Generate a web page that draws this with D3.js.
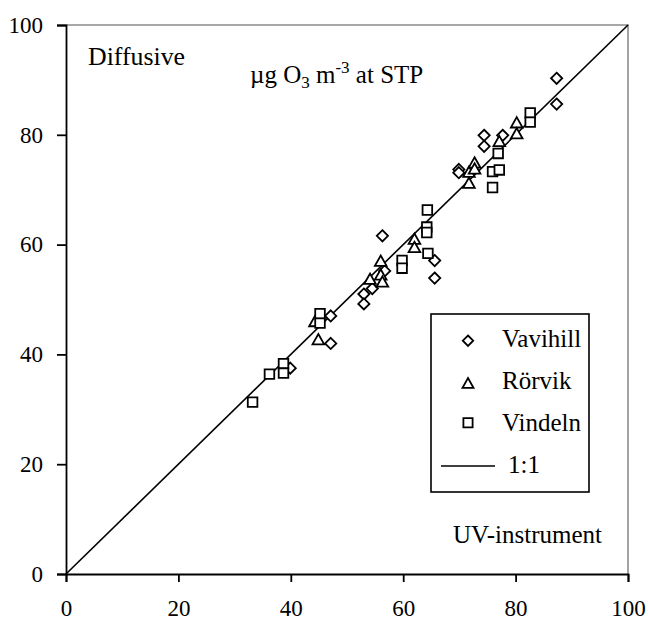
<!DOCTYPE html>
<html>
<head>
<meta charset="utf-8">
<script src="https://cdn.jsdelivr.net/npm/d3@7"></script>
<style>
  html, body { margin: 0; padding: 0; background: #fff; }
  svg text { font-family: "Liberation Serif", "Times New Roman", serif; fill: #000; }
</style>
</head>
<body>
<svg id="chart" width="648" height="623"></svg>
<script>
// Diffusive sampler vs UV-instrument ozone (µg O3 m-3 at STP)
const vavihill = [
  [39.9, 37.5], [47.1, 47.0], [47.1, 42.0], [53.0, 51.0], [53.0, 49.2],
  [54.5, 52.0], [56.3, 61.6], [56.7, 55.2], [65.6, 57.1], [65.6, 53.9],
  [69.9, 73.7], [69.9, 73.1], [74.4, 79.9], [74.4, 77.9], [77.7, 79.9],
  [87.3, 90.3], [87.3, 85.6]
];
const rorvik = [
  [44.3, 46.0], [44.9, 42.7], [54.1, 53.7], [56.0, 57.0], [56.0, 54.5],
  [56.3, 53.2], [62.0, 61.0], [62.0, 59.5], [71.7, 73.2], [71.7, 71.2],
  [72.7, 74.9], [72.7, 73.8], [77.1, 78.8], [80.2, 82.2], [80.2, 80.2]
];
const vindeln = [
  [33.2, 31.3], [36.2, 36.4], [38.7, 38.3], [38.7, 36.6], [45.2, 47.4],
  [45.2, 45.7], [59.8, 57.1], [59.8, 55.7], [64.3, 66.3], [64.2, 63.2],
  [64.2, 62.2], [64.4, 58.4], [75.9, 73.3], [77.1, 73.6], [75.9, 70.4],
  [76.9, 76.6], [82.6, 84.0], [82.6, 82.3]
];
const oneToOne = [[0, 0], [100, 100]];
const xTicks = [0, 20, 40, 60, 80, 100];
const yTicks = [0, 20, 40, 60, 80, 100];
const seriesNames = ["Vavihill", "Rörvik", "Vindeln"];
const lineName = "1:1";

const svg = d3.select("#chart");
const x = d3.scaleLinear().domain([0, 100]).range([66, 628]);
const y = d3.scaleLinear().domain([0, 100]).range([574, 25]);

// marker shapes
const shapes = {
  diamond: s => `M0,${-s}L${s},0L0,${s}L${-s},0Z`,
  triangle: s => `M0,${-s * 1.05}L${s * 1.1},${s * 0.9}L${-s * 1.1},${s * 0.9}Z`,
  square: s => `M${-s},${-s}H${s}V${s}H${-s}Z`
};

// plot frame: grey top/right border
svg.append("path")
  .attr("d", `M${x(0)},${y(100)}H${x(100)}V${y(0)}`)
  .attr("fill", "none").attr("stroke", "#8c8c8c").attr("stroke-width", 1.6);

// axes
const xAxis = d3.axisBottom(x).tickValues(xTicks).tickSize(8).tickPadding(18).tickFormat(d3.format("d"));
const yAxis = d3.axisLeft(y).tickValues(yTicks).tickSize(9).tickPadding(14).tickFormat(d3.format("d"));

const gx = svg.append("g").attr("transform", `translate(0,${y(0)})`).call(xAxis);
const gy = svg.append("g").attr("transform", `translate(${x(0)},0)`).call(yAxis);
[gx, gy].forEach(g => {
  g.select(".domain").attr("stroke", "#000").attr("stroke-width", 1.8);
  g.selectAll(".tick line").attr("stroke", "#000").attr("stroke-width", 1.8);
  g.selectAll(".tick text").attr("font-family", "Liberation Serif").attr("font-size", 23).attr("fill", "#000");
});

// 1:1 line
const line = d3.line().x(d => x(d[0])).y(d => y(d[1]));
svg.append("path").datum(oneToOne).attr("d", line)
  .attr("fill", "none").attr("stroke", "#000").attr("stroke-width", 1.6);

// data points
function drawSeries(data, shape, size) {
  svg.append("g").selectAll("path").data(data).join("path")
    .attr("transform", d => `translate(${x(d[0])},${y(d[1])})`)
    .attr("d", shapes[shape](size))
    .attr("fill", "#fff").attr("stroke", "#000").attr("stroke-width", 1.8);
}
drawSeries(vavihill, "diamond", 5.6);
drawSeries(rorvik, "triangle", 5.3);
drawSeries(vindeln, "square", 4.8);

// annotations
svg.append("text").attr("x", 88).attr("y", 65).attr("font-size", 25)
  .attr("textLength", 97).attr("lengthAdjust", "spacingAndGlyphs").text("Diffusive");

const unit = svg.append("text").attr("x", 250).attr("y", 83).attr("font-size", 25);
unit.append("tspan").text("µg O");
unit.append("tspan").attr("dy", 5).attr("font-size", 17).text("3");
unit.append("tspan").attr("dy", -5).text(" m");
unit.append("tspan").attr("dy", -10).attr("font-size", 17).text("-3");
unit.append("tspan").attr("dy", 10).text(" at STP");

svg.append("text").attr("x", 602).attr("y", 543).attr("font-size", 25)
  .attr("text-anchor", "end").text("UV-instrument");

// legend
const legend = svg.append("g");
legend.append("rect").attr("x", 431).attr("y", 314).attr("width", 158).attr("height", 178)
  .attr("fill", "#fff").attr("stroke", "#000").attr("stroke-width", 1.6);
const rows = [340.7, 383.3, 422.7];
const baselines = [346.7, 389.3, 430.7];
const legendShapes = ["diamond", "triangle", "square"];
const legendSizes = [5.2, 5.0, 4.6];
seriesNames.forEach((name, i) => {
  legend.append("path")
    .attr("transform", `translate(468,${rows[i]})`)
    .attr("d", shapes[legendShapes[i]](legendSizes[i]))
    .attr("fill", "#fff").attr("stroke", "#000").attr("stroke-width", 1.8);
  legend.append("text").attr("x", 502).attr("y", baselines[i]).attr("font-size", 25).text(name);
});
legend.append("line").attr("x1", 441).attr("x2", 495).attr("y1", 466).attr("y2", 466)
  .attr("stroke", "#000").attr("stroke-width", 1.6);
legend.append("text").attr("x", 508).attr("y", 473.3).attr("font-size", 25).text(lineName);
</script>
</body>
</html>
